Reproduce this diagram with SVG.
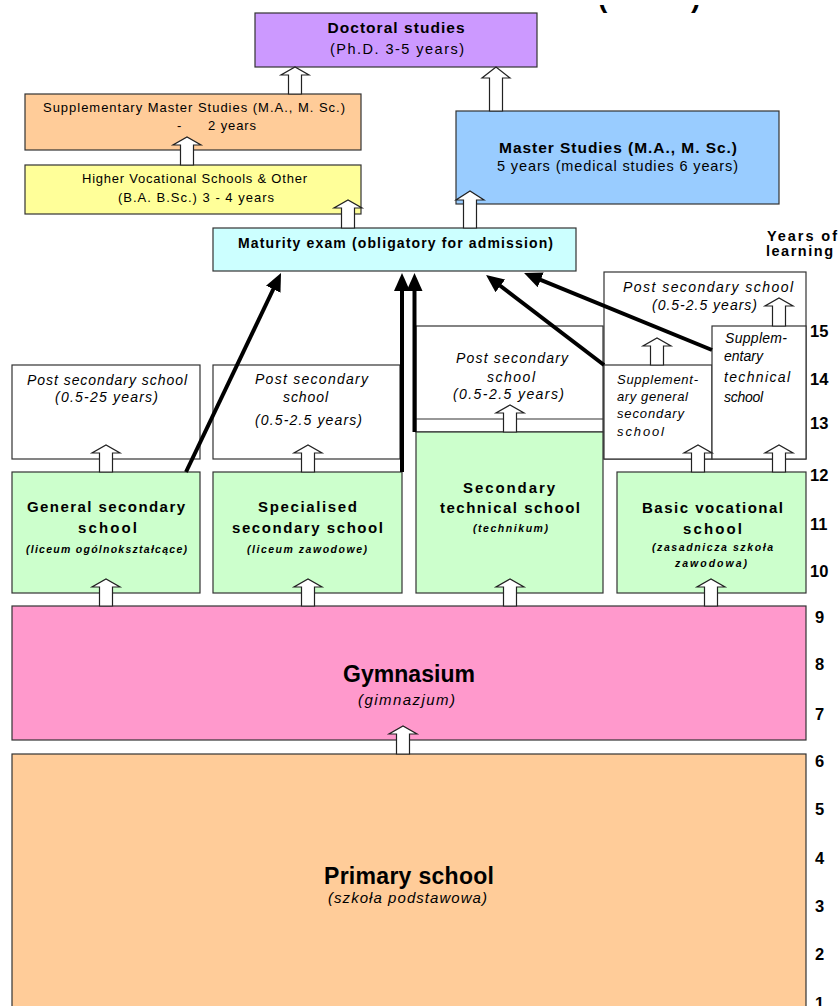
<svg xmlns="http://www.w3.org/2000/svg" width="840" height="1006" viewBox="0 0 840 1006">
<style>
text{font-family:"Liberation Sans",Arial,sans-serif;fill:#000}
.b{font-weight:bold}
.i{font-style:italic}
.c{text-anchor:middle}
.box{stroke:#333;stroke-width:1.2}
.w{fill:#fff}
.ba{fill:#fff;stroke:#222;stroke-width:1.2}
.bl{stroke:#000;stroke-width:4;fill:none}
.yr{font-weight:bold;font-size:16.5px}
</style>
<defs>
<marker id="ah" markerUnits="userSpaceOnUse" markerWidth="18" markerHeight="16" refX="8" refY="8" orient="auto">
<path d="M0,0 L18,8 L0,16 z" fill="#000"/>
</marker>
<clipPath id="topclip"><rect x="0" y="5" width="840" height="10"/></clipPath>
</defs>
<rect width="840" height="1006" fill="#fff"/>

<g id="title-fragment" clip-path="url(#topclip)">
<text x="598" y="7" class="b" font-size="28">(</text>
<text x="691" y="7" class="b" font-size="28">)</text>
</g>

<g id="doctoral">
<rect class="box" x="255" y="13" width="282" height="54" fill="#CC99FF"/>
<text class="b c" x="396" y="33" font-size="15.5" textLength="137">Doctoral studies</text>
<text class="c" x="397" y="54" font-size="14.5" textLength="134">(Ph.D. 3-5 years)</text>
</g>

<g id="supplementary-master">
<rect class="box" x="25" y="94" width="336" height="56" fill="#FFCC99"/>
<text class="c" x="194" y="112" font-size="13" textLength="302">Supplementary Master Studies  (M.A., M. Sc.)</text>
<text font-size="13"><tspan x="177" y="130">-</tspan><tspan x="208" y="130" textLength="48">2 years</tspan></text>
</g>

<g id="higher-vocational">
<rect class="box" x="25" y="165" width="336" height="49" fill="#FFFF99"/>
<text class="c" x="194.5" y="183" font-size="13" textLength="225">Higher Vocational Schools &amp; Other</text>
<text class="c" x="196" y="202" font-size="13" textLength="156">(B.A. B.Sc.)  3 - 4 years</text>
</g>

<g id="master">
<rect class="box" x="456" y="111" width="323" height="93" fill="#99CCFF"/>
<text class="b c" x="618" y="153" font-size="15.5" textLength="238">Master Studies (M.A., M. Sc.)</text>
<text class="c" x="617.5" y="171" font-size="14.5" textLength="241">5 years (medical studies 6 years)</text>
</g>

<g id="maturity">
<rect class="box" x="213" y="228" width="363" height="43" fill="#CCFFFF"/>
<text class="b c" x="395.5" y="248" font-size="14" textLength="315">Maturity exam (obligatory for admission)</text>
</g>

<g id="years-label">
<text class="b" x="767" y="241" font-size="14.5" textLength="70">Years of</text>
<text class="b" x="766" y="256" font-size="14.5" textLength="67">learning</text>
</g>

<g id="post-secondary-1">
<rect class="box w" x="12" y="365" width="188" height="94"/>
<text class="i c" x="107" y="385" font-size="14" textLength="160">Post secondary school</text>
<text class="i c" x="106.5" y="402" font-size="14" textLength="103">(0.5-25 years)</text>
</g>

<g id="post-secondary-2">
<rect class="box w" x="213" y="365" width="187" height="94"/>
<text class="i c" x="311.5" y="384" font-size="14" textLength="113">Post secondary</text>
<text class="i c" x="305.5" y="402" font-size="14" textLength="45">school</text>
<text class="i c" x="308.5" y="425" font-size="14" textLength="107">(0.5-2.5 years)</text>
</g>

<g id="post-secondary-3">
<rect class="box w" x="416" y="326" width="187" height="106"/>
<line x1="416" y1="419" x2="603" y2="419" stroke="#333" stroke-width="1.2"/>
<text class="i c" x="512" y="363" font-size="14" textLength="112">Post secondary</text>
<text class="i c" x="511" y="382" font-size="14" textLength="48">school</text>
<text class="i c" x="508.5" y="399" font-size="14" textLength="111">(0.5-2.5 years)</text>
</g>

<g id="post-secondary-4">
<rect class="box w" x="604" y="272" width="202" height="187"/>
<text class="i c" x="708" y="292" font-size="14" textLength="170">Post secondary school</text>
<text class="i c" x="704.5" y="310" font-size="14" textLength="105">(0.5-2.5 years)</text>
</g>

<g id="supplementary-general">
<rect class="box w" x="604" y="365" width="108" height="94"/>
<text class="i" font-size="13">
<tspan x="617" y="384" textLength="81">Supplement-</tspan>
<tspan x="617" y="401" textLength="71">ary general</tspan>
<tspan x="617" y="418" textLength="67">secondary</tspan>
<tspan x="617" y="436" textLength="47">school</tspan>
</text>
</g>

<g id="supplementary-technical">
<rect class="box w" x="712" y="326" width="94" height="133"/>
<text class="i" font-size="14">
<tspan x="725" y="343" textLength="62">Supplem-</tspan>
<tspan x="724" y="361">entary</tspan>
<tspan x="724" y="382" textLength="66">technical</tspan>
<tspan x="724" y="402" textLength="39">school</tspan>
</text>
</g>

<g id="general-secondary">
<rect class="box" x="12" y="472" width="188" height="121" fill="#CCFFCC"/>
<text class="b c" x="106" y="512" font-size="15" textLength="158">General secondary</text>
<text class="b c" x="107.5" y="533" font-size="15" textLength="59">school</text>
<text class="b i c" x="106.5" y="553" font-size="10.5" textLength="161">(liceum ogólnokształcące)</text>
</g>

<g id="specialised-secondary">
<rect class="box" x="213" y="472" width="189" height="121" fill="#CCFFCC"/>
<text class="b c" x="307.5" y="512" font-size="15" textLength="99">Specialised</text>
<text class="b c" x="307.5" y="533" font-size="15" textLength="151">secondary school</text>
<text class="b i c" x="307" y="553" font-size="10.5" textLength="120">(liceum zawodowe)</text>
</g>

<g id="secondary-technical">
<rect class="box" x="416" y="432" width="187" height="161" fill="#CCFFCC"/>
<text class="b c" x="509" y="493" font-size="15" textLength="92">Secondary</text>
<text class="b c" x="510" y="513" font-size="15" textLength="140">technical school</text>
<text class="b i c" x="510.5" y="532" font-size="10.5" textLength="75">(technikum)</text>
</g>

<g id="basic-vocational">
<rect class="box" x="617" y="472" width="189" height="121" fill="#CCFFCC"/>
<text class="b c" x="712.5" y="513" font-size="15" textLength="141">Basic vocational</text>
<text class="b c" x="712.5" y="534" font-size="15" textLength="59">school</text>
<text class="b i c" x="712.5" y="551" font-size="10.5" textLength="121">(zasadnicza szkoła</text>
<text class="b i c" x="711" y="567" font-size="10.5" textLength="72">zawodowa)</text>
</g>

<g id="gymnasium">
<rect class="box" x="12" y="606" width="794" height="134" fill="#FF99CC"/>
<text class="b c" x="409" y="682" font-size="23" textLength="132">Gymnasium</text>
<text class="i c" x="406.5" y="705" font-size="15" textLength="97">(gimnazjum)</text>
</g>

<g id="primary">
<rect class="box" x="12" y="754" width="794" height="260" fill="#FFCC99"/>
<text class="b c" x="409" y="884" font-size="23" textLength="170">Primary school</text>
<text class="i c" x="407.5" y="903" font-size="15" textLength="159">(szkoła podstawowa)</text>
</g>

<g id="years">
<text class="yr" x="810" y="337">15</text>
<text class="yr" x="810" y="385">14</text>
<text class="yr" x="810" y="429">13</text>
<text class="yr" x="810" y="481">12</text>
<text class="yr" x="810" y="530">11</text>
<text class="yr" x="810" y="577">10</text>
<text class="yr" x="815" y="623">9</text>
<text class="yr" x="815" y="670">8</text>
<text class="yr" x="815" y="720">7</text>
<text class="yr" x="815" y="767">6</text>
<text class="yr" x="815" y="815">5</text>
<text class="yr" x="815" y="864">4</text>
<text class="yr" x="815" y="912">3</text>
<text class="yr" x="815" y="960">2</text>
<text class="yr" x="815" y="1009">1</text>
</g>

<g id="connectors">
<polygon class="ba" points="288.5,94 288.5,75 281,75 295,67 309,75 301.5,75 301.5,94"/>
<polygon class="ba" points="489.5,111 489.5,78 482,78 496,67 510,78 502.5,78 502.5,111"/>
<polygon class="ba" points="180.5,165 180.5,145 173,145 187,137 201,145 193.5,145 193.5,165"/>
<polygon class="ba" points="341.5,228 341.5,208 334,208 348,200 362,208 354.5,208 354.5,228"/>
<polygon class="ba" points="463.5,228 463.5,200 456,200 470,191 484,200 476.5,200 476.5,228"/>
<polygon class="ba" points="99.5,472 99.5,453 92,453 106,445 120,453 112.5,453 112.5,472"/>
<polygon class="ba" points="301.5,472 301.5,453 294,453 308,445 322,453 314.5,453 314.5,472"/>
<polygon class="ba" points="503.5,432 503.5,413 496,413 510,405 524,413 516.5,413 516.5,432"/>
<polygon class="ba" points="691.5,472 691.5,453 684,453 698,445 712,453 704.5,453 704.5,472"/>
<polygon class="ba" points="772.5,472 772.5,453 765,453 779,445 793,453 785.5,453 785.5,472"/>
<polygon class="ba" points="650.5,365 650.5,346 643,346 657,338 671,346 663.5,346 663.5,365"/>
<polygon class="ba" points="772.5,326 772.5,306 765,306 779,298 793,306 785.5,306 785.5,326"/>
<polygon class="ba" points="99.5,606 99.5,587 92,587 106,579 120,587 112.5,587 112.5,606"/>
<polygon class="ba" points="301.5,606 301.5,587 294,587 308,579 322,587 314.5,587 314.5,606"/>
<polygon class="ba" points="503.5,606 503.5,587 496,587 510,579 524,587 516.5,587 516.5,606"/>
<polygon class="ba" points="704.5,606 704.5,587 697,587 711,579 725,587 717.5,587 717.5,606"/>
<polygon class="ba" points="396.5,754 396.5,734 389,734 403,726 417,734 409.5,734 409.5,754"/>

<line class="bl" x1="186" y1="472" x2="276.7" y2="282" marker-end="url(#ah)"/>
<line class="bl" x1="402" y1="472" x2="402" y2="283" marker-end="url(#ah)"/>
<line class="bl" x1="414.5" y1="432" x2="414.5" y2="283" marker-end="url(#ah)"/>
<line class="bl" x1="604" y1="365" x2="494" y2="281" marker-end="url(#ah)"/>
<line class="bl" x1="712" y1="350" x2="533.3" y2="276.8" marker-end="url(#ah)"/>
</g>
</svg>
